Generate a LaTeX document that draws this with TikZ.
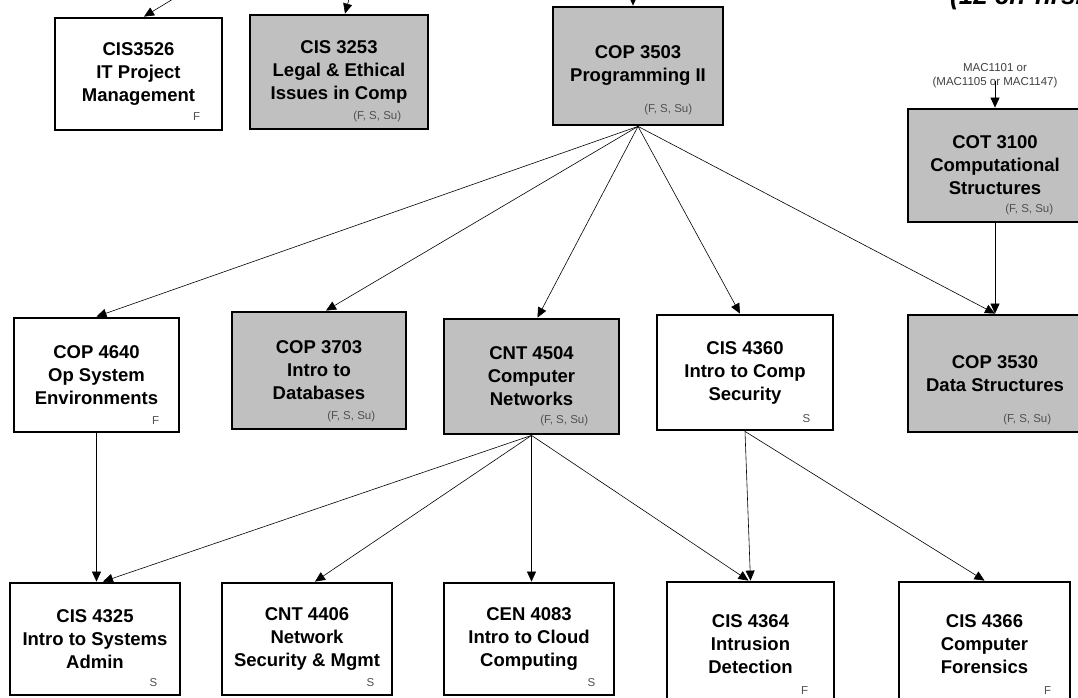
\documentclass[tikz,border=0pt]{standalone}
\usepackage{fontspec}
\setmainfont{Liberation Sans}
\usetikzlibrary{arrows.meta,positioning}
\definecolor{boxgray}{HTML}{C0C0C0}
\definecolor{semgray}{HTML}{505050}
\definecolor{macgray}{HTML}{404040}
\tikzset{
  crs/.style={draw, line width=2.8pt, fill=white, align=center, inner sep=0pt,
    font=\fontsize{18.5}{23}\selectfont\bfseries},
  crsg/.style={crs, fill=boxgray},
  sem/.style={anchor=east, text=semgray, inner sep=0pt, font=\fontsize{11.5}{14}\selectfont},
  req/.style={line width=0.6pt, ->}
}

\begin{document}
\begin{tikzpicture}[x=1pt,y=-1pt,>={Triangle[length=10pt,width=9pt]}]
\useasboundingbox (0,0) rectangle (1078,698);
\clip (0,0) rectangle (1078,698);

% top row
\node[crs, minimum width=167pt, minimum height=112pt] (it) at (138.5,74) {CIS3526\\IT Project\\Management};
\node[crsg, minimum width=178pt, minimum height=114pt] (eth) at (339,72) {CIS 3253\\Legal \& Ethical\\Issues in Comp};
\node[crsg, minimum width=170pt, minimum height=118pt] (prog) at (638,66) {COP 3503\\Programming II};
\node[crsg, minimum width=174pt, minimum height=113pt] (cot) at (995,165.5) {COT 3100\\Computational\\Structures};
\node[align=center, inner sep=0pt, text=macgray, font=\fontsize{11.5}{14}\selectfont] (mac) at (995,76) {MAC1101 or\\(MAC1105 or MAC1147)};
\node[anchor=base west, inner sep=0pt, font=\fontsize{26}{30}\selectfont\bfseries\itshape] (hrs) at (950,5) {(12 cr. hrs.)};

% middle row
\node[crs, minimum width=165pt, minimum height=114pt] (os) at (96.5,375) {COP 4640\\Op System\\Environments};
\node[crsg, minimum width=174pt, minimum height=117pt] (db) at (319,370.5) {COP 3703\\Intro to\\Databases};
\node[crsg, minimum width=175pt, minimum height=115pt] (net) at (531.5,376.5) {CNT 4504\\Computer\\Networks};
\node[crs, minimum width=176pt, minimum height=115pt] (sec) at (745,372.5) {CIS 4360\\Intro to Comp\\Security};
\node[crsg, minimum width=174pt, minimum height=117pt] (ds) at (995,373.5) {COP 3530\\Data Structures};

% bottom row
\node[crs, minimum width=170pt, minimum height=112pt] (adm) at (95,639) {CIS 4325\\Intro to Systems\\Admin};
\node[crs, minimum width=170pt, minimum height=112pt] (nsm) at (307,639) {CNT 4406\\Network\\Security \& Mgmt};
\node[crs, minimum width=170pt, minimum height=112pt] (cloud) at (529,639) {CEN 4083\\Intro to Cloud\\Computing};
\node[crs, minimum width=167pt, minimum height=125pt] (ids) at (750.5,644.5) {CIS 4364\\Intrusion\\Detection};
\node[crs, minimum width=171pt, minimum height=125pt] (for) at (984.5,644.5) {CIS 4366\\Computer\\Forensics};

% terms offered
\node[sem] (it-t) at ([xshift=-23pt,yshift=15pt]it.south east) {F};
\node[sem] (eth-t) at ([xshift=-28pt,yshift=14pt]eth.south east) {(F, S, Su)};
\node[sem] (prog-t) at ([xshift=-32pt,yshift=17pt]prog.south east) {(F, S, Su)};
\node[sem] (cot-t) at ([xshift=-30pt,yshift=14pt]cot.south east) {(F, S, Su)};
\node[sem] (os-t) at ([xshift=-21pt,yshift=13pt]os.south east) {F};
\node[sem] (db-t) at ([xshift=-32pt,yshift=14pt]db.south east) {(F, S, Su)};
\node[sem] (net-t) at ([xshift=-32pt,yshift=15pt]net.south east) {(F, S, Su)};
\node[sem] (sec-t) at ([xshift=-24pt,yshift=13pt]sec.south east) {S};
\node[sem] (ds-t) at ([xshift=-32pt,yshift=14pt]ds.south east) {(F, S, Su)};
\node[sem] (adm-t) at ([xshift=-24pt,yshift=14pt]adm.south east) {S};
\node[sem] (nsm-t) at ([xshift=-19pt,yshift=14pt]nsm.south east) {S};
\node[sem] (cloud-t) at ([xshift=-20pt,yshift=14pt]cloud.south east) {S};
\node[sem] (ids-t) at ([xshift=-27pt,yshift=18pt]ids.south east) {F};
\node[sem] (for-t) at ([xshift=-20pt,yshift=18pt]for.south east) {F};

% prerequisites from above the page
\coordinate (it-in) at (221,-30);
\coordinate (eth-in) at (357,-30);
\coordinate (prog-in) at (633,-30);
\draw[req] (it-in) -- ([xshift=5.5pt]it.north);
\draw[req] (eth-in) -- ([xshift=6pt]eth.north);
\draw[req] (prog-in) -- ([xshift=-5pt]prog.north);
\draw[req] ([yshift=-5pt]mac.center) -- (cot.north);

% prerequisite arrows
\draw[req] (prog.south) -- (os.north);
\draw[req] (prog.south) -- ([xshift=7pt]db.north);
\draw[req] (prog.south) -- ([xshift=6pt]net.north);
\draw[req] (prog.south) -- ([xshift=-5pt]sec.north);
\draw[req] (prog.south) -- (ds.north);
\draw[req] (cot.south) -- (ds.north);
\draw[req] (os.south) -- (os.south |- adm.north);
\draw[req] (net.south) -- ([xshift=8pt]adm.north);
\draw[req] (net.south) -- ([xshift=8pt]nsm.north);
\draw[req] (net.south) -- (net.south |- cloud.north);
\draw[req] (net.south) -- ([xshift=-2pt]ids.north);
\draw[req] (sec.south) -- (ids.north);
\draw[req] (sec.south) -- (for.north);
\end{tikzpicture}
\end{document}
